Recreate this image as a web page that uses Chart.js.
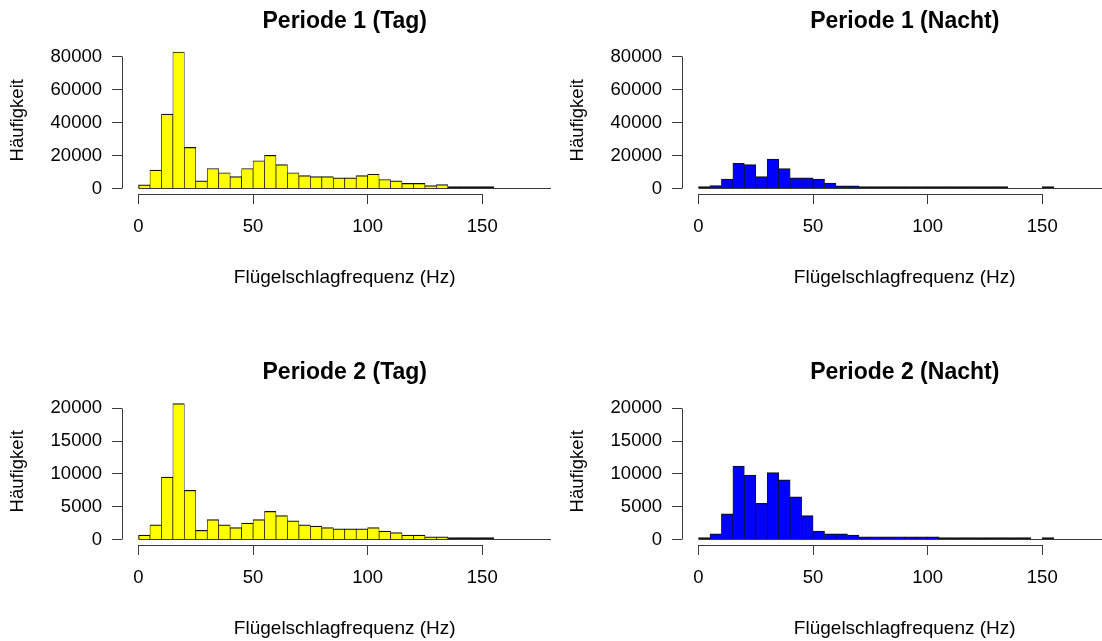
<!DOCTYPE html>
<html lang="de">
<head>
<meta charset="utf-8">
<title>Flügelschlagfrequenz</title>
<script src="https://cdn.jsdelivr.net/npm/chart.js@4.4.1/dist/chart.umd.min.js"></script>
<style>
  html, body { margin: 0; padding: 0; background: #fff; overflow: hidden; }
  #wrap { position: relative; width: 1102px; height: 641px; overflow: hidden; }
  canvas { position: absolute; }
</style>
</head>
<body>
<div id="wrap">
  <canvas id="p1tag" width="570" height="321" style="left:0px;top:0px;width:570px;height:321px"></canvas>
  <canvas id="p1nacht" width="570" height="321" style="left:560px;top:0px;width:570px;height:321px"></canvas>
  <canvas id="p2tag" width="570" height="321" style="left:0px;top:351px;width:570px;height:321px"></canvas>
  <canvas id="p2nacht" width="570" height="321" style="left:560px;top:351px;width:570px;height:321px"></canvas>
</div>
<script>
// Klassengrenzen (linke Kante, Breite 5 Hz)
var freqBins = [0, 5, 10, 15, 20, 25, 30, 35, 40, 45, 50, 55, 60, 65, 70, 75,
                80, 85, 90, 95, 100, 105, 110, 115, 120, 125, 130, 135, 140, 145, 150];
var binWidth = 5;
var xTicks = [0, 50, 100, 150];
var xEnd = 180;

var yTicksP1 = [0, 20000, 40000, 60000, 80000];
var yTicksP2 = [0, 5000, 10000, 15000, 20000];
var yMaxP1 = 83000;
var yMaxP2 = 20800;

// Häufigkeiten je Klasse
var tagP1 = [2200, 11200, 45200, 83000, 25000, 4700, 12200, 9600, 7300, 12200,
             16900, 20200, 14500, 9600, 7900, 7300, 7300, 6500, 6500, 7900,
             8700, 5500, 4700, 3100, 3100, 1800, 2400, 500, 400, 400, 300];
var nachtP1 = [800, 1800, 5700, 15300, 14500, 7300, 17900, 12200, 6500, 6500,
               5700, 3300, 1600, 1600, 600, 500, 500, 500, 500, 500,
               500, 400, 400, 400, 400, 400, 400, 0, 0, 0, 800];
var tagP2 = [660, 2240, 9500, 20700, 7500, 1400, 3050, 2240, 1830, 2500,
             3050, 4280, 3660, 2850, 2240, 2040, 1830, 1630, 1630, 1630,
             1830, 1270, 1070, 660, 660, 400, 400, 150, 150, 150, 150];
var nachtP2 = [250, 870, 3900, 11200, 9800, 5500, 10200, 9100, 6500, 3650,
               1270, 870, 870, 660, 400, 400, 400, 400, 400, 400,
               400, 150, 150, 150, 150, 150, 150, 150, 150, 0, 250];

var fontFamily = '"Liberation Sans", Arial, Helvetica, sans-serif';

function align(px) {
    return Math.round(px - 0.5) + 0.5;
}

// Achsen im Stil von R: Linien nur über den Bereich der Ticks, Basislinie bei 0
var rAxes = {
    id: 'rAxes',
    afterDatasetsDraw: function (chart) {
        var ctx = chart.ctx;
        var xs = chart.scales.x;
        var ys = chart.scales.y;
        var area = chart.chartArea;
        var yt = chart.options.plugins.rAxes.yTicks;
        ctx.save();
        ctx.lineWidth = 1;
        ctx.strokeStyle = '#3a3a3a';
        ctx.beginPath();
        // Basislinie
        var y0 = align(ys.getPixelForValue(0));
        ctx.moveTo(xs.getPixelForValue(0), y0);
        ctx.lineTo(Math.min(xs.getPixelForValue(xEnd), area.right), y0);
        // y-Achse
        var ax = align(area.left);
        ctx.moveTo(ax, align(ys.getPixelForValue(yt[0])));
        ctx.lineTo(ax, align(ys.getPixelForValue(yt[yt.length - 1])));
        // x-Achse
        var ay = align(area.bottom);
        ctx.moveTo(align(xs.getPixelForValue(xTicks[0])), ay);
        ctx.lineTo(align(xs.getPixelForValue(xTicks[xTicks.length - 1])), ay);
        ctx.stroke();
        ctx.restore();
    }
};

function renderHist(id, title, counts, color, yTicks, yMax) {
    var points = [];
    for (var i = 0; i < freqBins.length; i++) {
        if (counts[i] > 0) {
            points.push({ x: freqBins[i] + binWidth / 2, y: counts[i] });
        }
    }
    var ctx = document.getElementById(id).getContext('2d');
    return new Chart(ctx, {
        type: 'bar',
        data: {
            datasets: [{
                data: points,
                // sehr flache Balken bestehen praktisch nur aus Rand
                backgroundColor: function (c) {
                    var ys = c.chart.scales.y;
                    if (!ys || !c.raw) return color;
                    var h = ys.getPixelForValue(0) - ys.getPixelForValue(c.raw.y);
                    return h < 2 ? '#111' : color;
                },
                borderColor: '#111',
                borderWidth: function (c) {
                    return { top: 1.2, left: c.dataIndex === 0 ? 1.2 : 0.7, right: 0.7, bottom: 0 };
                },
                borderSkipped: 'start',
                minBarLength: 2,
                barPercentage: 1,
                categoryPercentage: 1
            }]
        },
        options: {
            responsive: false,
            animation: false,
            devicePixelRatio: 1,
            layout: { padding: { top: 0, left: 0, right: 2.5, bottom: 0 } },
            plugins: {
                legend: { display: false },
                tooltip: { enabled: false },
                title: {
                    display: true,
                    text: title,
                    fullSize: false,
                    color: '#000',
                    font: { family: fontFamily, size: 23, weight: 'bold', lineHeight: 1.2 },
                    padding: { top: 8, bottom: 10.9 }
                },
                rAxes: { yTicks: yTicks }
            },
            scales: {
                x: {
                    type: 'linear',
                    offset: false,
                    min: -7.2,
                    max: 187.2,
                    afterBuildTicks: function (s) {
                        s.ticks = xTicks.map(function (v) { return { value: v }; });
                    },
                    afterFit: function (s) { s.height = 127; },
                    grid: { offset: false, drawOnChartArea: false, drawTicks: true, tickLength: 10, color: '#3a3a3a', lineWidth: 1 },
                    border: { display: false },
                    ticks: {
                        color: '#000',
                        padding: 12,
                        maxRotation: 0,
                        autoSkip: false,
                        font: { family: fontFamily, size: 18.5 }
                    },
                    title: {
                        display: true,
                        text: 'Flügelschlagfrequenz (Hz)',
                        color: '#000',
                        font: { family: fontFamily, size: 19 },
                        padding: { top: 0, bottom: 31.5 }
                    }
                },
                y: {
                    min: -0.04 * yMax,
                    max: 1.04 * yMax,
                    afterBuildTicks: function (s) {
                        s.ticks = yTicks.map(function (v) { return { value: v }; });
                    },
                    afterFit: function (s) { s.width = 122; },
                    grid: { drawOnChartArea: false, drawTicks: true, tickLength: 10, color: '#3a3a3a', lineWidth: 1 },
                    border: { display: false },
                    ticks: {
                        color: '#000',
                        padding: 10,
                        autoSkip: false,
                        font: { family: fontFamily, size: 18.5 },
                        callback: function (v) { return String(v); }
                    },
                    title: {
                        display: true,
                        text: 'Häufigkeit',
                        color: '#000',
                        font: { family: fontFamily, size: 18.5 },
                        padding: { top: 7, bottom: 0 }
                    }
                }
            }
        },
        plugins: [rAxes]
    });
}

document.addEventListener('DOMContentLoaded', function () {
    renderHist('p1tag', 'Periode 1 (Tag)', tagP1, '#ffff00', yTicksP1, yMaxP1);
    renderHist('p1nacht', 'Periode 1 (Nacht)', nachtP1, '#0000ff', yTicksP1, yMaxP1);
    renderHist('p2tag', 'Periode 2 (Tag)', tagP2, '#ffff00', yTicksP2, yMaxP2);
    renderHist('p2nacht', 'Periode 2 (Nacht)', nachtP2, '#0000ff', yTicksP2, yMaxP2);
});
</script>
</body>
</html>
